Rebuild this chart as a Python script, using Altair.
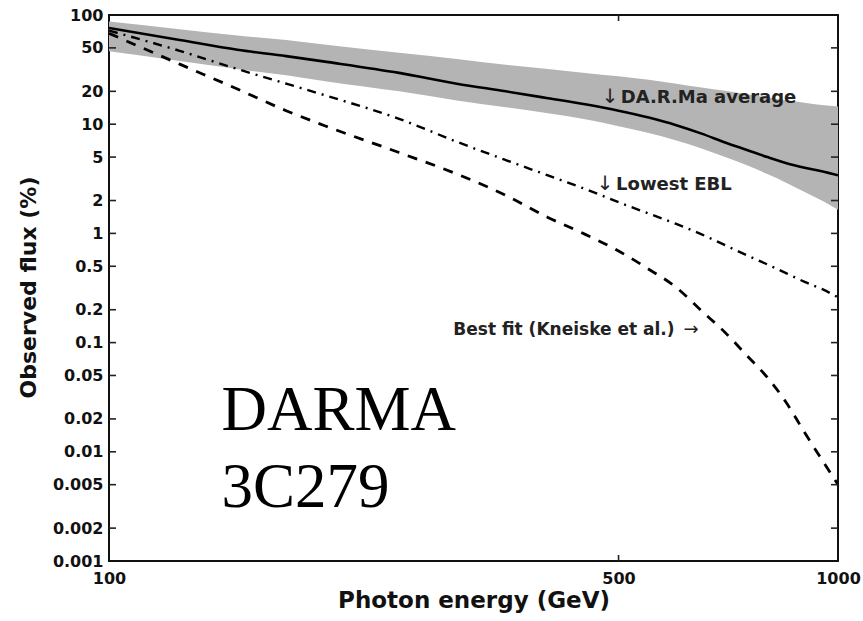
import altair as alt
import pandas as pd

# Photon energy grid (GeV)
energy = [100, 125, 150, 175, 200, 250, 300, 350, 400, 450, 500,
          550, 600, 650, 700, 750, 800, 850, 900, 950, 1000]

# Observed flux (%) for each model
darma_avg = [76, 59, 48, 42, 37, 29.5, 23.5, 20, 17.3, 15.2, 13.3,
             11.5, 9.8, 8.2, 6.8, 5.8, 5.0, 4.4, 4.0, 3.7, 3.4]
darma_hi = [87, 74, 65, 59, 53, 45, 39.5, 35, 32, 29.5, 27.5,
            25.5, 23.5, 21.7, 20.2, 18.8, 17.6, 16.6, 15.7, 15.0, 14.5]
darma_lo = [46.5, 38, 32, 28, 24.5, 20, 16.5, 14.3, 12.6, 11.1, 9.6,
            8.3, 7.1, 6.0, 5.0, 4.2, 3.5, 2.9, 2.4, 2.0, 1.65]
lowest_ebl = [72, 47, 32, 23.5, 18, 11.2, 6.9, 4.7, 3.4, 2.55, 1.93,
              1.52, 1.22, 0.98, 0.78, 0.63, 0.52, 0.43, 0.36, 0.31, 0.26]
best_fit = [68, 35.5, 21, 13.3, 9.4, 5.5, 3.5, 2.23, 1.4, 0.98, 0.69,
            0.47, 0.32, 0.195, 0.124, 0.076, 0.048, 0.028, 0.015, 0.0085, 0.005]

# Curve annotations (bold text) and their arrows
note_text = ["DA.R.Ma average", "Lowest EBL", "Best fit (Kneiske et al.)"]
note_energy = [503.4, 496.1, 296.7]
note_flux = [15.7, 2.5, 0.118]
note_size = [18, 18, 17]
arrow_text = ["↓", "↓", "→"]
arrow_energy = [474.2, 466.7, 614.0]
arrow_flux = [15.7, 2.5, 0.118]
arrow_size = [20, 20, 18]

# Source label
source_text = ["DARMA", "3C279"]
source_energy = [142.7, 142.7]
source_flux = [0.0158, 0.00315]

# Axis ticks
ytick_values = [100, 50, 20, 10, 5, 2, 1, 0.5, 0.2, 0.1, 0.05,
                0.02, 0.01, 0.005, 0.002, 0.001]
xtick_values = [100, 500, 1000]
xtick_marks = [500]

W, H = 729, 546
SANS = "DejaVu Sans"
INK = "#111111"

curves = pd.DataFrame({
    "energy": energy, "avg": darma_avg, "hi": darma_hi, "lo": darma_lo,
    "ebl": lowest_ebl, "fit": best_fit,
})
notes = pd.DataFrame({"text": note_text, "energy": note_energy,
                      "flux": note_flux, "size": note_size})
arrows = pd.DataFrame({"text": arrow_text, "energy": arrow_energy,
                       "flux": arrow_flux, "size": arrow_size})
source = pd.DataFrame({"text": source_text, "energy": source_energy, "flux": source_flux})
yticks = pd.DataFrame({"flux": ytick_values[1:-1]})
xticks = pd.DataFrame({"energy": xtick_marks})

xscale = alt.Scale(type="log", domain=[100, 1000], nice=False)
yscale = alt.Scale(type="log", domain=[0.001, 100], nice=False)

xaxis = alt.Axis(
    values=xtick_values, format="~g", title="Photon energy (GeV)",
    tickSize=0, domain=False, grid=False, labelFlush=False, labelOverlap=False,
    labelFont=SANS, labelFontSize=16, labelFontWeight="bold", labelColor=INK,
    labelPadding=9,
    titleFont=SANS, titleFontSize=23, titleFontWeight="bold", titleColor=INK,
    titleY=46, titleBaseline="alphabetic",
)
yaxis = alt.Axis(
    values=ytick_values, format="~g", title="Observed flux (%)",
    tickSize=0, domain=False, grid=False, labelFlush=False, labelOverlap=False,
    labelFont=SANS, labelFontSize=16, labelFontWeight="bold", labelColor=INK,
    labelPadding=6,
    titleFont=SANS, titleFontSize=22, titleFontWeight="bold", titleColor=INK,
    titleX=-81, titleY=272, titleAngle=-90, titleAlign="center",
    titleBaseline="middle",
)

X = alt.X("energy:Q", scale=xscale, axis=xaxis)

base = alt.Chart(curves)

band = base.mark_area(color="#b4b4b4", opacity=1, interpolate="monotone", clip=True).encode(
    x=X,
    y=alt.Y("lo:Q", scale=yscale, axis=yaxis),
    y2="hi:Q",
)
avg_line = base.mark_line(color="black", strokeWidth=2.6, interpolate="monotone", clip=True).encode(
    x=X, y=alt.Y("avg:Q", scale=yscale, axis=yaxis)
)
ebl_line = base.mark_line(color="black", strokeWidth=2.4, strokeDash=[9, 6, 2, 6],
                          interpolate="monotone", clip=True).encode(
    x=X, y=alt.Y("ebl:Q", scale=yscale, axis=yaxis)
)
fit_line = base.mark_line(color="black", strokeWidth=2.8, strokeDash=[10, 9],
                          interpolate="monotone", clip=True).encode(
    x=X, y=alt.Y("fit:Q", scale=yscale, axis=yaxis)
)

note_layer = alt.Chart(notes).mark_text(
    align="left", baseline="alphabetic", font=SANS,
    fontWeight="bold", color="#222222",
).encode(
    x=X, y=alt.Y("flux:Q", scale=yscale, axis=yaxis), text="text:N",
    size=alt.Size("size:Q", scale=None, legend=None),
)

arrow_layer = alt.Chart(arrows).mark_text(
    align="left", baseline="alphabetic", font=SANS,
    fontWeight="normal", color="#222222",
).encode(
    x=X, y=alt.Y("flux:Q", scale=yscale, axis=yaxis), text="text:N",
    size=alt.Size("size:Q", scale=None, legend=None),
)

source_layer = alt.Chart(source).mark_text(
    align="left", baseline="alphabetic", font="Liberation Serif", fontSize=63,
    color="black",
).encode(x=X, y=alt.Y("flux:Q", scale=yscale, axis=yaxis), text="text:N")

# Inward-pointing tick marks on all four sides of the frame
tick_style = dict(color="#222222", strokeWidth=1.6)
left_ticks = alt.Chart(yticks).mark_rule(**tick_style).encode(
    y=alt.Y("flux:Q", scale=yscale, axis=yaxis), x=alt.value(0), x2=alt.value(7)
)
right_ticks = alt.Chart(yticks).mark_rule(**tick_style).encode(
    y=alt.Y("flux:Q", scale=yscale, axis=yaxis), x=alt.value(W - 7), x2=alt.value(W)
)
bottom_ticks = alt.Chart(xticks).mark_rule(**tick_style).encode(
    x=X, y=alt.value(H - 6), y2=alt.value(H)
)
top_ticks = alt.Chart(xticks).mark_rule(**tick_style).encode(
    x=X, y=alt.value(0), y2=alt.value(6)
)

chart = alt.layer(
    band, avg_line, ebl_line, fit_line,
    note_layer, arrow_layer, source_layer,
    left_ticks, right_ticks, bottom_ticks, top_ticks,
).properties(
    width=W, height=H,
    padding={"left": 109, "top": 15, "right": 25, "bottom": 60},
    autosize=alt.AutoSizeParams(type="none"),
    background="white",
).configure_view(stroke="#111111", strokeWidth=2)

chart.save("out.html", embed_options={"renderer": "svg", "actions": False})
